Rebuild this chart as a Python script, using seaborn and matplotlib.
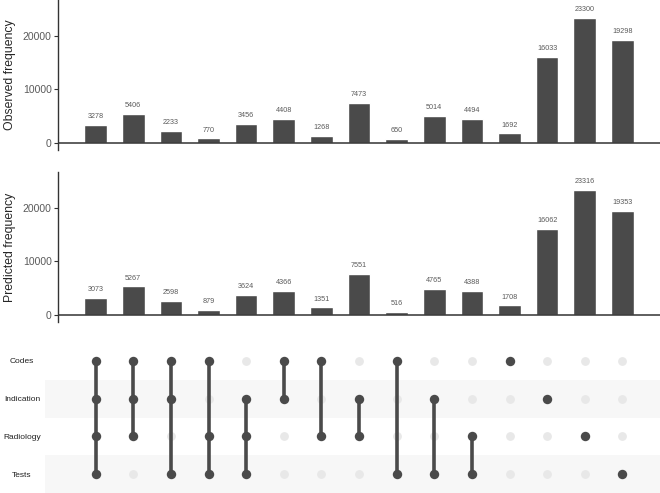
import matplotlib
matplotlib.use("Agg")
import matplotlib.pyplot as plt
import numpy as np
import pandas as pd
import seaborn as sns

sets = ["Codes", "Indication", "Radiology", "Tests"]
combos = [
    ("Codes", "Indication", "Radiology", "Tests"),
    ("Codes", "Indication", "Radiology"),
    ("Codes", "Indication", "Tests"),
    ("Codes", "Radiology", "Tests"),
    ("Indication", "Radiology", "Tests"),
    ("Codes", "Indication"),
    ("Codes", "Radiology"),
    ("Indication", "Radiology"),
    ("Codes", "Tests"),
    ("Indication", "Tests"),
    ("Radiology", "Tests"),
    ("Codes",),
    ("Indication",),
    ("Radiology",),
    ("Tests",),
]
observed = [3278, 5406, 2233, 770, 3456, 4408, 1268, 7473, 650, 5014, 4494, 1692, 16033, 23300, 19298]
predicted = [3073, 5267, 2598, 879, 3624, 4366, 1351, 7551, 516, 4765, 4388, 1708, 16062, 23316, 19353]

sns.set_style("white")
plt.rcParams["font.family"] = ["Liberation Sans", "DejaVu Sans"]

DARK = "#4a4a4a"
LIGHT = "#e8e8e8"
TICK_GRAY = "#5a5a5a"

W, H = 660, 493
fig = plt.figure(figsize=(W / 100, H / 100), dpi=100)


def fig_rect(x0, y0, x1, y1):
    # pixel box (top-left origin) -> figure fraction rect
    return [x0 / W, 1 - y1 / H, (x1 - x0) / W, (y1 - y0) / H]


ax_obs = fig.add_axes(fig_rect(58, 0, 660, 150))
ax_pred = fig.add_axes(fig_rect(58, 172, 660, 322))
ax_mat = fig.add_axes(fig_rect(45, 342, 660, 493))

n = len(combos)
labels = [str(i) for i in range(n)]


def draw_bars(ax, values, ylabel):
    df = pd.DataFrame({"combo": labels, "count": values})
    sns.barplot(data=df, x="combo", y="count", color=DARK, width=0.6,
                saturation=1, ax=ax, order=labels)
    for i, v in enumerate(values):
        ax.text(i, v + 900, str(v), ha="center", va="bottom",
                fontsize=5.2, color=TICK_GRAY)
    ax.set_xlim(-1, 15)
    ax.set_ylim(-1400, 26700)
    ax.axhline(0, color="#333333", lw=1.1, zorder=3)
    ax.set_yticks([0, 10000, 20000])
    ax.set_xticks([])
    ax.set_xlabel("")
    ax.set_ylabel(ylabel, fontsize=8.8, labelpad=5)
    ax.tick_params(axis="y", labelsize=7.5, labelcolor=TICK_GRAY, left=True,
                   length=3, width=0.8, color="#333333", pad=1.5)
    for side in ["top", "right", "bottom"]:
        ax.spines[side].set_visible(False)
    ax.spines["left"].set_color("#333333")
    ax.spines["left"].set_linewidth(1.0)
    ax.patch.set_alpha(0)


draw_bars(ax_obs, observed, "Observed frequency")
draw_bars(ax_pred, predicted, "Predicted frequency")

# matrix
row_of = {s: i for i, s in enumerate(sets)}
cells = []
for ci, combo in enumerate(combos):
    for s in sets:
        cells.append({"col": ci, "row": row_of[s], "on": s in combo})
cells = pd.DataFrame(cells)

slot = 602 / 16
ax_mat.set_xlim(-1 - 13 / slot, 15)
ax_mat.set_ylim(3.5, -0.5)
for r in [1, 3]:
    ax_mat.axhspan(r - 0.5, r + 0.5, color="#f7f7f7", zorder=0, lw=0)

sns.scatterplot(data=cells[~cells["on"]], x="col", y="row", color=LIGHT,
                s=40, linewidth=0, ax=ax_mat, zorder=2)
for ci, combo in enumerate(combos):
    rows = [row_of[s] for s in combo]
    if len(rows) > 1:
        ax_mat.plot([ci, ci], [min(rows), max(rows)], color=DARK, lw=2.6,
                    zorder=3, solid_capstyle="butt")
sns.scatterplot(data=cells[cells["on"]], x="col", y="row", color=DARK,
                s=46, linewidth=0, ax=ax_mat, zorder=4)

ax_mat.set_xticks([])
ax_mat.set_xlabel("")
ax_mat.set_ylabel("")
ax_mat.set_yticks(range(len(sets)))
ax_mat.set_yticklabels(sets, fontsize=6, ha="center", color="#222222")
ax_mat.tick_params(axis="y", left=False, pad=13)
for side in ax_mat.spines:
    ax_mat.spines[side].set_visible(False)

fig.savefig("out.png", dpi=100)
